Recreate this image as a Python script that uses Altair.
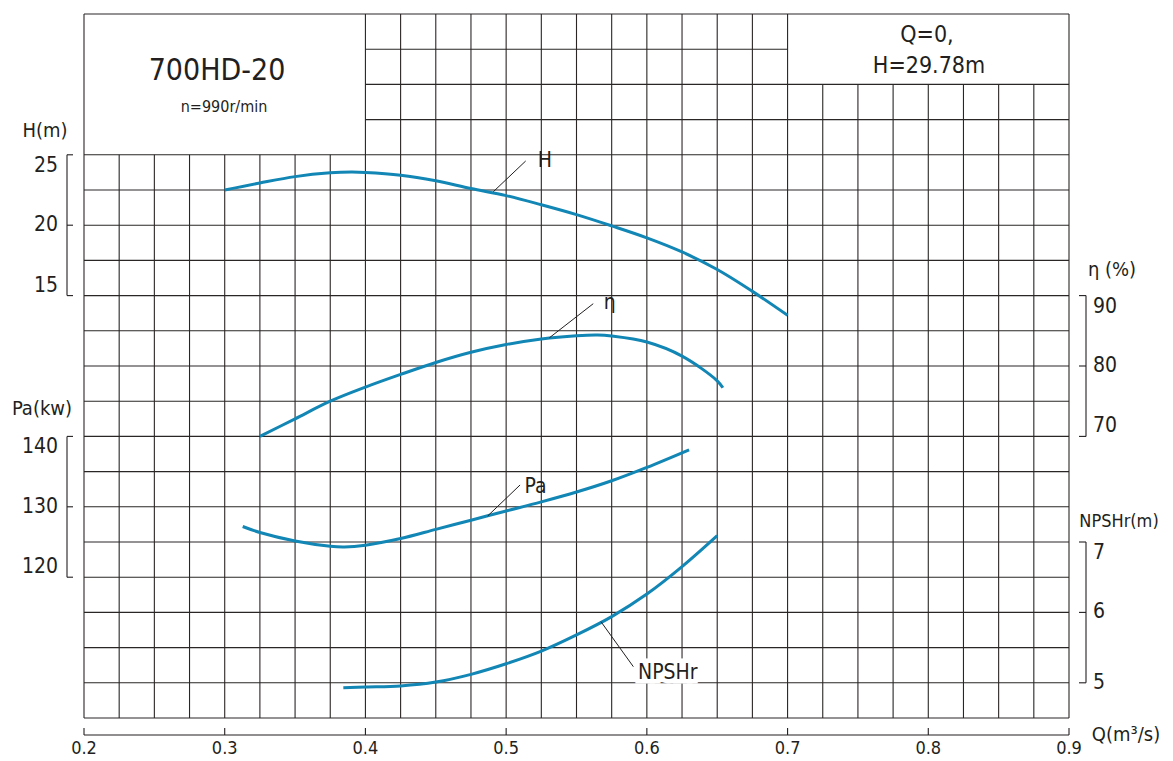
import altair as alt
import pandas as pd

# ---------------- data ----------------
q_head = [0.300, 0.325, 0.350, 0.375, 0.390, 0.400, 0.425, 0.450, 0.475, 0.500,
          0.525, 0.550, 0.575, 0.600, 0.625, 0.650, 0.675, 0.700]
head = [22.5, 23.0, 23.45, 23.72, 23.78, 23.75, 23.55, 23.15, 22.6, 22.1,
        21.45, 20.75, 19.95, 19.1, 18.1, 16.85, 15.3, 13.6]

q_eff = [0.325, 0.350, 0.375, 0.400, 0.425, 0.450, 0.475, 0.500, 0.525, 0.550,
         0.565, 0.575, 0.600, 0.625, 0.650, 0.654]
eff = [70.0, 72.5, 75.0, 77.0, 78.8, 80.5, 81.95, 83.05, 83.85, 84.3,
       84.4, 84.25, 83.4, 81.4, 77.9, 76.9]

q_power = [0.3128, 0.325, 0.350, 0.375, 0.385, 0.400, 0.425, 0.450, 0.475, 0.500,
           0.525, 0.550, 0.575, 0.600, 0.630]
power = [127.2, 126.35, 125.15, 124.4, 124.3, 124.55, 125.5, 126.8, 128.1, 129.4,
         130.7, 132.1, 133.7, 135.6, 138.1]

q_npsh = [0.3843, 0.400, 0.425, 0.450, 0.475, 0.500, 0.525, 0.550, 0.575, 0.600, 0.625, 0.650]
npsh = [4.93, 4.94, 4.955, 5.01, 5.12, 5.27, 5.45, 5.68, 5.94, 6.26, 6.65, 7.09]

# leader lines (start on curve, end at label) and label anchors
head_leader_q = [0.4909, 0.5139]
head_leader_v = [22.38, 24.56]
head_label = ("H", 0.5210, 24.55)
eff_leader_q = [0.5307, 0.5619]
eff_leader_v = [84.0, 88.85]
eff_label = ("η", 0.5679, 88.9)
power_leader_q = [0.4869, 0.5099]
power_leader_v = [128.7, 133.1]
power_label = ("Pa", 0.5117, 132.8)
npsh_leader_q = [0.5674, 0.5904]
npsh_leader_v = [5.868, 5.229]
npsh_label = ("NPSHr", 0.5923, 5.135)

# axis tick values / labels
x_ticks = [0.2, 0.3, 0.4, 0.5, 0.6, 0.7, 0.8, 0.9]
x_tick_labels = ["0.2", "0.3", "0.4", "0.5", "0.6", "0.7", "0.8", "0.9"]
head_ticks = [15, 20, 25]
power_ticks = [120, 130, 140]
eff_ticks = [70, 80, 90]
npsh_ticks = [5, 6, 7]

model = "700HD-20"
speed = "n=990r/min"
shutoff_1 = "Q=0,"
shutoff_2 = "H=29.78m"

# ---------------- styling ----------------
W, H = 985, 704
FONT = "Liberation Sans Narrow, DejaVu Sans Condensed, Arial Narrow, Roboto Condensed, sans-serif"
CURVE = "#1286b4"
GRID = "#2a2626"
INK = "#231f20"

xscale = alt.Scale(domain=[0.2, 0.9], nice=False, zero=False)
X = lambda f="q": alt.X(f"{f}:Q", scale=xscale, axis=None)

# grid rows 0..20 ; each value axis maps onto the rows linearly
grid_dom = [0, 20]
head_dom = [-15, 35]      # 25 m at row 16, 2.5 m per row
eff_dom = [30, 130]       # 90 % at row 12, 5 % per row
power_dom = [100, 200]    # 140 kW at row 8, 5 kW per row
npsh_dom = [4.5, 14.5]    # 7 m at row 5, 0.5 m per row


def Y(dom, f="v"):
    return alt.Y(f"{f}:Q", scale=alt.Scale(domain=dom, nice=False, zero=False), axis=None)


# ---------------- grid ----------------
vq, vtop = [], []
for k in range(29):
    q = round(0.2 + 0.025 * k, 4)
    if k == 0 or 8 <= k <= 20 or k == 28:
        top = 20
    elif k < 8:
        top = 16
    else:
        top = 18
    vq.append(q)
    vtop.append(top)
vgrid = pd.DataFrame({"q": vq, "r": [0] * 29, "r2": vtop})

hr, hq1, hq2 = [], [], []
for r in range(21):
    if r <= 16 or r == 20:
        a, b = 0.2, 0.9
    elif r in (17, 18):
        a, b = 0.4, 0.9
    else:
        a, b = 0.4, 0.7
    hr.append(r); hq1.append(a); hq2.append(b)
hgrid = pd.DataFrame({"r": hr, "q": hq1, "q2": hq2})

grid_v = alt.Chart(vgrid).mark_rule(color=GRID, strokeWidth=1.1).encode(
    x=X(), y=Y(grid_dom, "r"), y2="r2:Q")
grid_h = alt.Chart(hgrid).mark_rule(color=GRID, strokeWidth=1.1).encode(
    x=X(), x2="q2:Q", y=Y(grid_dom, "r"))

# x axis (line, upward ticks, labels)
xdf = pd.DataFrame({"q": x_ticks, "lab": x_tick_labels})
x_line = alt.Chart(pd.DataFrame({"q": [0.2], "q2": [0.9]})).mark_rule(color=INK, strokeWidth=1.1).encode(
    x=X(), x2="q2:Q", y=alt.value(H + 17))
x_tick = alt.Chart(xdf).mark_rule(color=INK, strokeWidth=1.1).encode(
    x=X(), y=alt.value(H + 10), y2=alt.value(H + 17))
x_lab = alt.Chart(xdf).mark_text(font=FONT, fontSize=18, color=INK, baseline="middle").encode(
    x=X(), y=alt.value(H + 31), text="lab:N")
x_title = alt.Chart(pd.DataFrame({"a": [0]})).mark_text(
    text="Q(m³/s)", font=FONT, fontSize=20, color=INK, align="center", baseline="middle"
).encode(x=alt.value(W + 57), y=alt.value(H + 17))

grid_group = alt.layer(grid_v, grid_h, x_line, x_tick, x_lab, x_title)


# ---------------- series groups ----------------
def series_group(qs, vs, dom, ticks, baselines, side, title, title_xy,
                 lq, lv, label, halo=False, title_size=20):
    curve = alt.Chart(pd.DataFrame({"q": qs, "v": vs})).mark_line(
        color=CURVE, strokeWidth=3, interpolate="catmull-rom").encode(x=X(), y=Y(dom))
    leader = alt.Chart(pd.DataFrame({"q": lq, "v": lv})).mark_line(
        color=INK, strokeWidth=1).encode(x=X(), y=Y(dom))
    ldf = pd.DataFrame({"q": [label[1]], "v": [label[2]], "t": [label[0]]})
    layers = [curve, leader]
    if halo:
        layers.append(alt.Chart(ldf).mark_text(
            font=FONT, fontSize=21, align="left", baseline="middle", dx=2,
            stroke="white", strokeWidth=9, color="white").encode(x=X(), y=Y(dom), text="t:N"))
    layers.append(alt.Chart(ldf).mark_text(
        font=FONT, fontSize=21, align="left", baseline="middle", dx=2,
        color=INK).encode(x=X(), y=Y(dom), text="t:N"))

    if side == "left":
        bx, tx, lx, al = -17, -11, -26, "right"
    else:
        bx, tx, lx, al = W + 17, W + 10, W + 24, "left"
    bdf = pd.DataFrame({"v": [min(ticks)], "v2": [max(ticks)]})
    layers.append(alt.Chart(bdf).mark_rule(color=INK, strokeWidth=1.1).encode(
        x=alt.value(bx), y=Y(dom), y2="v2:Q"))
    tdf = pd.DataFrame({"v": ticks, "lab": [str(t) for t in ticks]})
    layers.append(alt.Chart(tdf).mark_rule(color=INK, strokeWidth=1.1).encode(
        x=alt.value(bx), x2=alt.value(tx), y=Y(dom)))
    for t, b in zip(ticks, baselines):
        layers.append(alt.Chart(pd.DataFrame({"v": [t], "lab": [str(t)]})).mark_text(
            font=FONT, fontSize=21, color=INK, align=al, baseline=b
        ).encode(x=alt.value(lx), y=Y(dom), text="lab:N"))
    layers.append(alt.Chart(pd.DataFrame({"a": [0]})).mark_text(
        text=title, font=FONT, fontSize=title_size, color=INK, align="center", baseline="middle"
    ).encode(x=alt.value(title_xy[0]), y=alt.value(title_xy[1])))
    return alt.layer(*layers)


head_group = series_group(q_head, head, head_dom, head_ticks, ["bottom", "middle", "top"],
                          "left", "H(m)", (-39, 117), head_leader_q, head_leader_v, head_label)
power_group = series_group(q_power, power, power_dom, power_ticks, ["bottom", "middle", "top"],
                           "left", "Pa(kw)", (-42, 395), power_leader_q, power_leader_v, power_label)
eff_group = series_group(q_eff, eff, eff_dom, eff_ticks, ["bottom", "middle", "top"],
                         "right", "η (%)", (1028, 256), eff_leader_q, eff_leader_v, eff_label)
npsh_group = series_group(q_npsh, npsh, npsh_dom, npsh_ticks, ["middle", "middle", "top"],
                          "right", "NPSHr(m)", (1035, 508), npsh_leader_q, npsh_leader_v, npsh_label,
                          halo=True, title_size=18)

# ---------------- header texts ----------------
one = pd.DataFrame({"a": [0]})
t1 = alt.Chart(one).mark_text(text=model, font=FONT, fontSize=30, color=INK, baseline="middle").encode(
    x=alt.value(133), y=alt.value(57))
t2 = alt.Chart(one).mark_text(text=speed, font=FONT, fontSize=16, color=INK, baseline="middle").encode(
    x=alt.value(140), y=alt.value(93))
t3 = alt.Chart(one).mark_text(text=shutoff_1, font=FONT, fontSize=23, color=INK, baseline="middle").encode(
    x=alt.value(843), y=alt.value(21))
t4 = alt.Chart(one).mark_text(text=shutoff_2, font=FONT, fontSize=23, color=INK, baseline="middle").encode(
    x=alt.value(845), y=alt.value(52))
header = alt.layer(t1, t2, t3, t4)

chart = alt.layer(grid_group, head_group, power_group, eff_group, npsh_group, header).resolve_scale(
    y="independent"
).properties(
    width=W, height=H,
    autosize=alt.AutoSizeParams(type="none"),
    padding={"left": 76, "top": 6, "right": 96, "bottom": 43},
    background="white",
).configure_view(stroke=None)

chart.save("out.html", embed_options={"renderer": "svg", "actions": False})
